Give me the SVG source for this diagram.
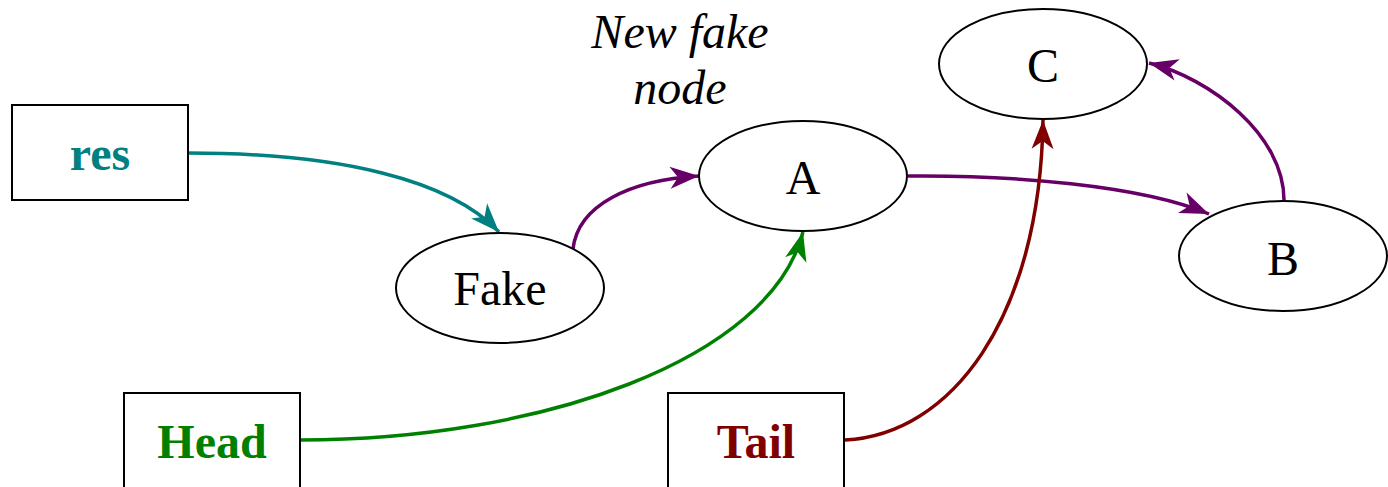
<svg xmlns="http://www.w3.org/2000/svg" width="1388" height="487" viewBox="0 0 1388 487">
<style>
.node{fill:#fff;stroke:#000;stroke-width:2}
.lbl{font-family:"Liberation Serif","Times New Roman",serif;font-size:48px;text-anchor:middle}
.bold{font-weight:bold}
.edge{fill:none;stroke-width:3.5}
</style>
<defs>
<marker id="ah-teal" markerUnits="userSpaceOnUse" viewBox="-30 -12 31 24" refX="0" refY="0" markerWidth="31" markerHeight="24" orient="auto"><path d="M0,0 L-29,-11 L-21,0 L-29,11 Z" fill="#008080"/></marker>
<marker id="ah-purple" markerUnits="userSpaceOnUse" viewBox="-30 -12 31 24" refX="0" refY="0" markerWidth="31" markerHeight="24" orient="auto"><path d="M0,0 L-29,-11 L-21,0 L-29,11 Z" fill="#660066"/></marker>
<marker id="ah-green" markerUnits="userSpaceOnUse" viewBox="-30 -12 31 24" refX="0" refY="0" markerWidth="31" markerHeight="24" orient="auto"><path d="M0,0 L-29,-11 L-21,0 L-29,11 Z" fill="#008000"/></marker>
<marker id="ah-red" markerUnits="userSpaceOnUse" viewBox="-30 -12 31 24" refX="0" refY="0" markerWidth="31" markerHeight="24" orient="auto"><path d="M0,0 L-29,-11 L-21,0 L-29,11 Z" fill="#800000"/></marker>
</defs>
<rect width="1388" height="487" fill="#fff"/>
<g id="connectors">
<path class="edge" stroke="#008080" marker-end="url(#ah-teal)" d="M188,153 C340,153 450,180 499,232"/>
<path class="edge" stroke="#660066" marker-end="url(#ah-purple)" d="M573,249 C578,205 630,180 699,176"/>
<path class="edge" stroke="#660066" marker-end="url(#ah-purple)" d="M908,176 C1010,175 1140,185 1209,214"/>
<path class="edge" stroke="#660066" marker-end="url(#ah-purple)" d="M1284,200 C1284,135 1210,78 1149,63"/>
<path class="edge" stroke="#008000" marker-end="url(#ah-green)" d="M300,440 C540,440 770,360 803,232"/>
<path class="edge" stroke="#800000" marker-end="url(#ah-red)" d="M845,440 C950,435 1040,320 1043,120"/>
</g>
<g id="res"><rect class="node" x="12" y="105" width="176" height="95"/><text class="lbl bold" x="100" y="170" fill="#008080">res</text></g>
<g id="head"><rect class="node" x="124" y="393" width="176" height="100"/><text class="lbl bold" x="212" y="458" fill="#008000">Head</text></g>
<g id="tail"><rect class="node" x="668" y="393" width="176" height="100"/><text class="lbl bold" x="756" y="458" fill="#800000">Tail</text></g>
<g id="fake"><ellipse class="node" cx="500" cy="288" rx="104" ry="55"/><text class="lbl" x="500" y="305">Fake</text></g>
<g id="a"><ellipse class="node" cx="803" cy="176" rx="104" ry="55"/><text class="lbl" x="803" y="194">A</text></g>
<g id="b"><ellipse class="node" cx="1283" cy="256" rx="104" ry="55"/><text class="lbl" x="1283" y="275">B</text></g>
<g id="c"><ellipse class="node" cx="1043" cy="64" rx="104" ry="55"/><text class="lbl" x="1043" y="82">C</text></g>
<g id="note"><text class="lbl" font-style="italic" x="680" y="48">New fake</text><text class="lbl" font-style="italic" x="680" y="104">node</text></g>
</svg>
